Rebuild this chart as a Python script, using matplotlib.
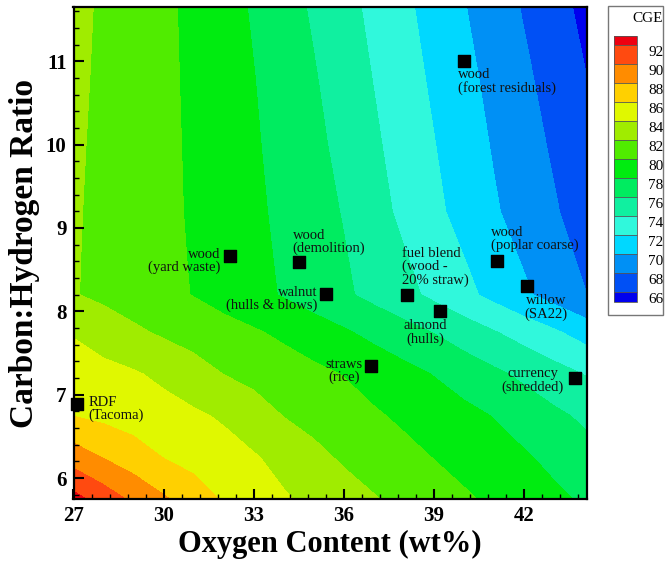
import numpy as np
import matplotlib
matplotlib.use('Agg')
import matplotlib.pyplot as plt
from matplotlib.patches import Rectangle
from matplotlib.ticker import MultipleLocator
from matplotlib.transforms import ScaledTranslation

plt.rcParams['font.family'] = ['Liberation Serif', 'DejaVu Serif']

# CGE map: columns = oxygen content, rows = C:H ratio
oxygen = np.array([27, 28, 29, 30, 31, 32, 33, 34, 35, 36, 37, 38, 39, 40, 41, 42, 43, 44.1])
ch_ratio = np.array([5.75, 6.25, 6.75, 7.25, 7.75, 8.2, 8.6, 9.2, 10.0, 10.8, 11.65])
cge = np.array([
    [92.66, 91.09, 89.59, 88.25, 86.97, 85.81, 85.01, 84.21, 83.49, 82.81, 82.13, 81.50, 80.88, 80.26, 79.64, 79.01, 78.39, 77.70],
    [89.06, 87.91, 86.91, 85.95, 85.35, 84.76, 84.17, 83.37, 82.49, 81.74, 81.14, 80.54, 79.95, 79.37, 78.80, 78.22, 77.52, 76.68],
    [85.96, 85.54, 85.13, 84.72, 84.30, 83.75, 82.84, 81.95, 81.38, 80.80, 80.23, 79.66, 79.09, 78.51, 77.92, 77.15, 76.38, 75.61],
    [84.94, 84.56, 84.19, 83.59, 82.78, 81.97, 81.47, 80.96, 80.45, 79.93, 79.26, 78.60, 77.92, 77.15, 76.38, 75.59, 74.77, 73.87],
    [83.85, 83.09, 82.34, 81.72, 81.22, 80.72, 80.21, 79.61, 78.92, 78.23, 77.48, 76.72, 75.94, 75.03, 74.12, 73.20, 72.28, 71.11],
    [82.11, 81.57, 81.03, 80.49, 79.93, 79.24, 78.55, 77.85, 77.08, 76.31, 75.45, 74.55, 73.58, 72.53, 71.44, 70.33, 69.22, 68.00],
    [82.13, 81.58, 81.02, 80.46, 79.87, 79.18, 78.48, 77.75, 76.95, 76.16, 75.20, 74.20, 73.14, 72.07, 70.96, 69.85, 68.79, 67.61],
    [82.18, 81.59, 81.00, 80.41, 79.79, 79.07, 78.36, 77.58, 76.75, 75.88, 74.71, 73.56, 72.44, 71.33, 70.22, 69.20, 68.20, 67.00],
    [82.26, 81.64, 81.02, 80.40, 79.73, 78.97, 78.21, 77.36, 76.47, 75.46, 74.31, 73.18, 72.07, 70.94, 69.83, 68.79, 67.73, 66.50],
    [82.36, 81.70, 81.04, 80.38, 79.66, 78.86, 78.05, 77.11, 76.15, 75.06, 73.93, 72.81, 71.68, 70.55, 69.44, 68.36, 67.24, 66.00],
    [82.46, 81.76, 81.06, 80.36, 79.58, 78.71, 77.81, 76.78, 75.74, 74.64, 73.54, 72.41, 71.26, 70.10, 68.97, 67.84, 66.70, 65.45],
])

# contour levels shown in the legend
levels = [65] + list(range(66, 93, 2)) + [93]
level_labels = list(range(66, 93, 2))
band_colors = ['#0000ee', '#0050f5', '#0090f5', '#00d8ff', '#30f8dc', '#10f0a0',
               '#00ec60', '#00ec10', '#50ec00', '#a0ec00', '#e0f800', '#ffd000',
               '#ff8c00', '#ff4a10', '#ee0010']

# fuels
fuel_names = ['wood\n(forest residuals)', 'wood\n(yard waste)', 'wood\n(demolition)',
              'walnut\n(hulls & blows)', 'fuel blend\n(wood -\n20% straw)',
              'wood\n(poplar coarse)', 'almond\n(hulls)', 'willow\n(SA22)',
              'straws\n(rice)', 'currency\n(shredded)', 'RDF\n(Tacoma)']
fuel_oxygen = [40.0, 32.2, 34.5, 35.4, 38.1, 41.1, 39.2, 42.1, 36.9, 43.7, 27.1]
fuel_ch = [11.0, 8.67, 8.59, 8.21, 8.2, 8.6, 8.0, 8.3, 7.35, 7.2, 6.89]

# label placement (offset in pixels, ha, va, multialignment)
label_style = [
    ((-6, -7), 'left', 'top', 'left'),
    ((-9, 8), 'right', 'top', 'right'),
    ((-6, 7), 'left', 'bottom', 'left'),
    ((-8, 8), 'right', 'top', 'right'),
    ((-5, 8), 'left', 'bottom', 'left'),
    ((-6, 9), 'left', 'bottom', 'left'),
    ((-15, -8), 'center', 'top', 'center'),
    ((19, -8), 'center', 'top', 'center'),
    ((-8, 8), 'right', 'top', 'center'),
    ((-11, 11), 'right', 'top', 'center'),
    ((12, 8), 'left', 'top', 'left'),
]

W, H = 665, 561
fig = plt.figure(figsize=(W / 100, H / 100), dpi=100)
ax = fig.add_axes([73.5 / W, (H - 499) / H, (587 - 73.5) / W, (499 - 7) / H])

cs = ax.contourf(oxygen, ch_ratio, cge, levels=levels, colors=band_colors)

ax.scatter(fuel_oxygen, fuel_ch, marker='s', s=72, color='black', zorder=5, clip_on=False)
for name, ox, ch, (off, ha, va, ma) in zip(fuel_names, fuel_oxygen, fuel_ch, label_style):
    ax.annotate(name, (ox, ch), xytext=off, textcoords='offset pixels',
                ha=ha, va=va, multialignment=ma, fontsize=10.5, linespacing=1.0,
                color='#111111', zorder=6)

ax.set_xlim(27, 44.1)
ax.set_ylim(5.75, 11.65)
ax.xaxis.set_major_locator(MultipleLocator(3))
ax.xaxis.set_minor_locator(MultipleLocator(0.6))
ax.yaxis.set_major_locator(MultipleLocator(1))
ax.yaxis.set_minor_locator(MultipleLocator(0.2))
ax.tick_params(which='both', direction='in', top=False, right=False, width=1.5)
ax.tick_params(which='major', length=7, labelsize=15, pad=5)
ax.tick_params(which='minor', length=3.5, width=1)
for lab in ax.get_xticklabels() + ax.get_yticklabels():
    lab.set_fontweight('bold')
for sp in ax.spines.values():
    sp.set_linewidth(1.6)

ax.set_xlabel('Oxygen Content (wt%)', fontsize=22, fontweight='bold', labelpad=3)
ax.set_ylabel('Carbon:Hydrogen Ratio', fontsize=24, fontweight='bold', labelpad=4)

# legend box with colour swatches
fig.add_artist(Rectangle((608 / W, (H - 315) / H), (663 - 608) / W, (315 - 6) / H,
                         transform=fig.transFigure, fill=False, ec='#777777', lw=1))
fig.text(648 / W, 1 - 19 / H, 'CGE', ha='center', va='center', fontsize=11)
cax = fig.add_axes([614 / W, (H - 302) / H, 23 / W, 266 / H])
cb = fig.colorbar(cs, cax=cax, spacing='proportional', ticks=level_labels, drawedges=True)
cb.outline.set_linewidth(0.6)
cb.outline.set_edgecolor('#555555')
cb.dividers.set_color('#555555')
cb.dividers.set_linewidth(0.6)
cax.tick_params(length=0, labelsize=11, pad=8)
for lab in cax.get_yticklabels():
    lab.set_transform(lab.get_transform() + ScaledTranslation(0, -4 / 72, fig.dpi_scale_trans))

fig.savefig('out.png', dpi=100)
